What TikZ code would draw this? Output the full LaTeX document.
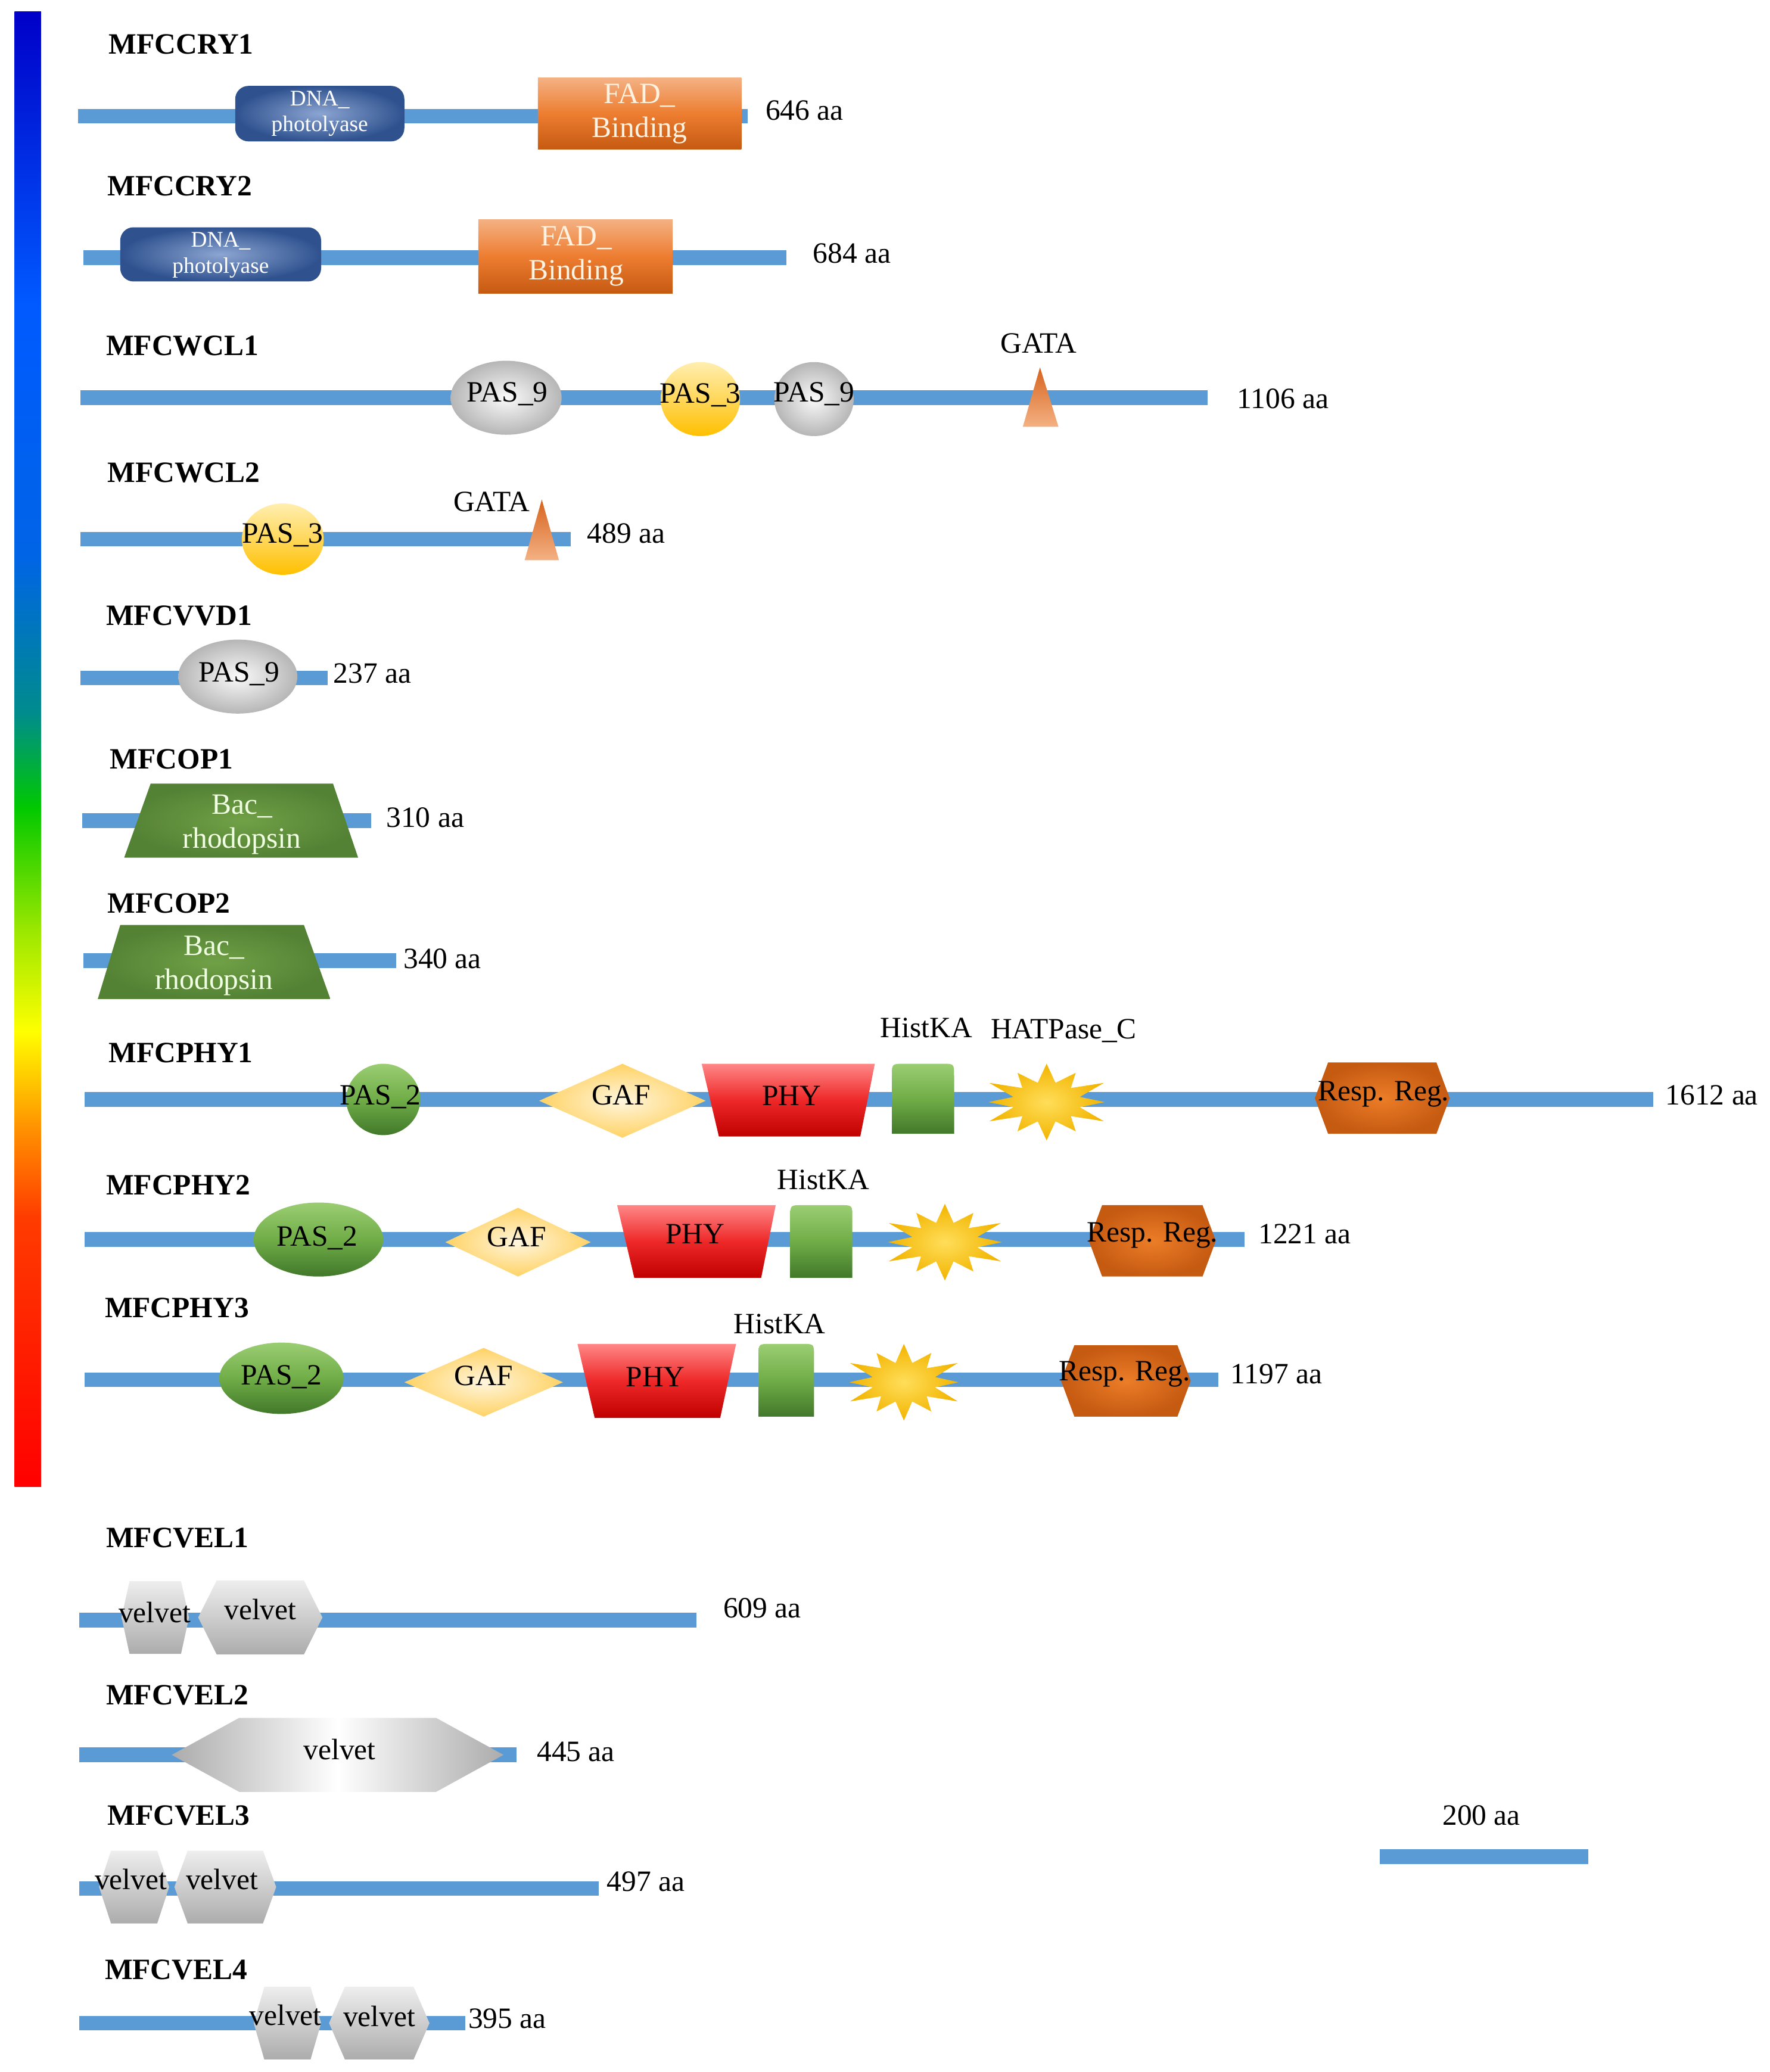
\documentclass[tikz,border=0pt]{standalone}
\usepackage{fontspec}
\setmainfont{Liberation Serif}
\definecolor{bbc}{RGB}{91,155,213}
\definecolor{dnain}{RGB}{140,165,210}
\definecolor{dnaout}{RGB}{47,82,143}
\definecolor{fadt}{RGB}{244,177,131}
\definecolor{fadm}{RGB}{237,125,49}
\definecolor{fadb}{RGB}{197,90,17}
\definecolor{grin}{RGB}{250,250,250}
\definecolor{grout}{RGB}{182,182,182}
\definecolor{yelt}{RGB}{255,238,175}
\definecolor{yelm}{RGB}{255,215,90}
\definecolor{yelb}{RGB}{255,192,0}
\definecolor{gatat}{RGB}{214,100,30}
\definecolor{gatab}{RGB}{244,177,131}
\definecolor{bacin}{RGB}{112,160,70}
\definecolor{bacout}{RGB}{84,130,53}
\definecolor{grnt}{RGB}{155,205,115}
\definecolor{grnm}{RGB}{112,173,71}
\definecolor{grnb}{RGB}{65,120,42}
\definecolor{gafin}{RGB}{255,246,222}
\definecolor{gafout}{RGB}{255,210,100}
\definecolor{phyt}{RGB}{255,135,135}
\definecolor{phym}{RGB}{238,40,40}
\definecolor{phyb}{RGB}{192,0,0}
\definecolor{starin}{RGB}{255,222,90}
\definecolor{starout}{RGB}{242,180,0}
\definecolor{rrin}{RGB}{236,125,40}
\definecolor{rrout}{RGB}{197,90,17}
\definecolor{velt}{RGB}{238,238,238}
\definecolor{velb}{RGB}{172,172,172}
\definecolor{fadtxt}{RGB}{255,242,225}
\definecolor{bactxt}{RGB}{240,255,225}
\definecolor{cb0}{RGB}{0,0,200}
\definecolor{cb1}{RGB}{0,90,255}
\definecolor{cb2}{RGB}{0,100,230}
\definecolor{cb3}{RGB}{0,140,140}
\definecolor{cb4}{RGB}{0,200,0}
\definecolor{cb5}{RGB}{150,230,0}
\definecolor{cb6}{RGB}{255,255,0}
\definecolor{cb7}{RGB}{255,150,0}
\definecolor{cb8}{RGB}{255,60,0}
\definecolor{cb9}{RGB}{255,0,0}
\newcommand{\fsz}{\fontsize{12.7}{14.6}\selectfont}
\newcommand{\fsm}{\fontsize{9.6}{11.2}\selectfont}
% shapes
\newcommand{\hexdom}[6]{\path[#1] ({#2-#4},{#3}) -- ({#2-#4+#6},{#3-#5}) -- ({#2+#4-#6},{#3-#5}) -- ({#2+#4},{#3}) -- ({#2+#4-#6},{#3+#5}) -- ({#2-#4+#6},{#3+#5}) -- cycle;}
\newcommand{\trapdom}[7]{\path[#1] (#2,#4) -- (#3,#4) -- (#6,#7) -- (#5,#7) -- cycle;}
\newcommand{\diadom}[5]{\path[#1] ({#2-#4},{#3}) -- ({#2},{#3-#5}) -- ({#2+#4},{#3}) -- ({#2},{#3+#5}) -- cycle;}
\newcommand{\elldom}[5]{\path[#1] (#2,#3) ellipse [x radius=#4, y radius=#5];}
\newcommand{\histdom}[5]{\path[#1] (#2,#5) -- (#2,{#3+9}) .. controls (#2,#3) .. ({#2+9},#3) -- ({#4-9},#3) .. controls (#4,#3) .. (#4,{#3+9}) -- (#4,#5) -- cycle;}
\newcommand{\stardom}[5]{\path[#1] ({#2+0.88*#4},{#3}) \foreach \k in {1,...,23}{ -- ({#2+#4*((mod(\k,2)==0)?((mod(\k,4)==2)?1:0.88):0.52)*cos(\k*15)},{#3+#5*((mod(\k,2)==0)?((mod(\k,4)==2)?1:0.88):0.52)*sin(\k*15)}) } -- cycle;}
\begin{document}
\begin{tikzpicture}[x=0.02cm,y=-0.02cm,
  every node/.style={font=\fsz, inner sep=0pt},
  pname/.style={font=\fsz\bfseries, anchor=base west},
  aalab/.style={anchor=base west},
  toplab/.style={anchor=base},
  dlab/.style={align=center},
  bbone/.style={line width=0.22cm, draw=bbc},
  dna/.style={inner color=dnain, outer color=dnaout},
  fad/.style={top color=fadt, bottom color=fadb, middle color=fadm},
  gball/.style={inner color=grin, outer color=grout},
  yball/.style={top color=yelt, bottom color=yelb, middle color=yelm},
  gata/.style={top color=gatat, bottom color=gatab},
  bac/.style={inner color=bacin, outer color=bacout},
  grn/.style={top color=grnt, bottom color=grnb, middle color=grnm},
  gaf/.style={inner color=gafin, outer color=gafout},
  phy/.style={top color=phyt, bottom color=phyb, middle color=phym},
  starf/.style={inner color=starin, outer color=starout},
  rreg/.style={inner color=rrin, outer color=rrout},
  vel/.style={top color=velt, bottom color=velb},
  velh/.style={left color=velb, right color=velb, middle color=white}]
\useasboundingbox (0,0) rectangle (1339,1568);
\fill[white] (0,0) rectangle (1339,1568);
% colour bar
\foreach \ya/\yb/\ca/\cb in {9/230/cb0/cb1,230/420/cb1/cb2,420/540/cb2/cb3,540/610/cb3/cb4,610/700/cb4/cb5,700/780/cb5/cb6,780/850/cb6/cb7,850/920/cb7/cb8,920/1124/cb8/cb9}
  \path[top color=\ca, bottom color=\cb] (11,\ya) rectangle (31,\yb+1);

% ---------- MFCCRY1
\node[pname] (n1) at (82,41) {MFCCRY1};
\coordinate (s1) at (59,88); \coordinate (e1) at (566,88);
\draw[bbone] (s1) -- (e1);
\path[dna, rounded corners=0.2cm] (178,65) rectangle (306,107);
\node[dlab, font=\fsm, text=white] (d1a) at (242,86) {DNA\_\\photolyase};
\path[fad] (407,59) rectangle (561,113);
\node[dlab, text=fadtxt] (d1b) at (484,86) {FAD\_\\Binding};
\node[aalab] (a1) at (579,91) {646 aa};

% ---------- MFCCRY2
\node[pname] (n2) at (81,148) {MFCCRY2};
\coordinate (s2) at (63,195); \coordinate (e2) at (595,195);
\draw[bbone] (s2) -- (e2);
\path[dna, rounded corners=0.2cm] (91,172) rectangle (243,213);
\node[dlab, font=\fsm, text=white] (d2a) at (167,193) {DNA\_\\photolyase};
\path[fad] (362,166) rectangle (509,222);
\node[dlab, text=fadtxt] (d2b) at (436,194) {FAD\_\\Binding};
\node[aalab] (a2) at (615,199) {684 aa};

% ---------- MFCWCL1
\node[pname] (n3) at (80,269) {MFCWCL1};
\coordinate (s3) at (61,301); \coordinate (e3) at (914,301);
\draw[bbone] (s3) -- (e3);
\elldom{gball}{383}{301}{42}{28}
\node (d3a) at (384,298) {PAS\_9};
\elldom{yball}{530}{302}{30}{28}
\node (d3b) at (530,299) {PAS\_3};
\elldom{gball}{616}{302}{30}{28}
\node (d3c) at (616,298) {PAS\_9};
\path[gata] (787,278) -- (801,323) -- (774,323) -- cycle;
\node[toplab] (t3) at (786,267) {GATA};
\node[aalab] (a3) at (936,309) {1106 aa};

% ---------- MFCWCL2
\node[pname] (n4) at (81,365) {MFCWCL2};
\coordinate (s4) at (61,408); \coordinate (e4) at (432,408);
\draw[bbone] (s4) -- (e4);
\elldom{yball}{214}{408}{31}{27}
\node (d4a) at (214,405) {PAS\_3};
\path[gata] (410,378) -- (423,424) -- (397,424) -- cycle;
\node[toplab] (t4) at (372,387) {GATA};
\node[aalab] (a4) at (444,411) {489 aa};

% ---------- MFCVVD1
\node[pname] (n5) at (80,473) {MFCVVD1};
\coordinate (s5) at (61,513); \coordinate (e5) at (248,513);
\draw[bbone] (s5) -- (e5);
\elldom{gball}{180}{512}{45}{28}
\node (d5a) at (181,510) {PAS\_9};
\node[aalab] (a5) at (252,517) {237 aa};

% ---------- MFCOP1
\node[pname] (n6) at (83,582) {MFCOP1};
\coordinate (s6) at (62,621); \coordinate (e6) at (281,621);
\draw[bbone] (s6) -- (e6);
\trapdom{bac}{114}{252}{593}{94}{271}{649}
\node[dlab, text=bactxt] (d6a) at (183,624) {Bac\_\\rhodopsin};
\node[aalab] (a6) at (292,626) {310 aa};

% ---------- MFCOP2
\node[pname] (n7) at (81,691) {MFCOP2};
\coordinate (s7) at (63,727); \coordinate (e7) at (300,727);
\draw[bbone] (s7) -- (e7);
\trapdom{bac}{91}{230}{700}{74}{250}{756}
\node[dlab, text=bactxt] (d7a) at (162,731) {Bac\_\\rhodopsin};
\node[aalab] (a7) at (305,733) {340 aa};

% ---------- MFCPHY1
\node[pname] (n8) at (82,804) {MFCPHY1};
\coordinate (s8) at (64,832); \coordinate (e8) at (1251,832);
\draw[bbone] (s8) -- (e8);
\elldom{grn}{290}{832}{28}{27}
\node (d8a) at (288,830) {PAS\_2};
\diadom{gaf}{471}{833}{63}{28}
\node (d8b) at (470,829) {GAF};
\trapdom{phy}{531}{662}{805}{544}{651}{860}
\node (d8c) at (599,829) {PHY};
\histdom{grn}{675}{805}{722}{858}
\stardom{starf}{792}{834}{50}{29}
\hexdom{rreg}{1046}{831}{51}{27}{10}
\node (d8d) at (1047,828) {Resp. Reg.};
\node[toplab] (t8a) at (701,785) {HistKA};
\node[toplab] (t8b) at (805,786) {HATPase\_C};
\node[aalab] (a8) at (1260,836) {1612 aa};

% ---------- MFCPHY2
\node[pname] (n9) at (80,904) {MFCPHY2};
\coordinate (s9) at (64,938); \coordinate (e9) at (942,938);
\draw[bbone] (s9) -- (e9);
\elldom{grn}{241}{938}{49}{28}
\node (d9a) at (240,937) {PAS\_2};
\diadom{gaf}{392}{940}{55}{26}
\node (d9b) at (391,936) {GAF};
\trapdom{phy}{467}{587}{912}{480}{576}{967}
\node (d9c) at (526,934) {PHY};
\histdom{grn}{598}{912}{645}{967}
\stardom{starf}{715}{940}{49}{29}
\hexdom{rreg}{872}{939}{48}{27}{10}
\node (d9d) at (872,935) {Resp. Reg.};
\node[toplab] (t9a) at (623,900) {HistKA};
\node[aalab] (a9) at (952,941) {1221 aa};

% ---------- MFCPHY3
\node[pname] (n10) at (79,997) {MFCPHY3};
\coordinate (s10) at (64,1044); \coordinate (e10) at (922,1044);
\draw[bbone] (s10) -- (e10);
\elldom{grn}{213}{1043}{47}{27}
\node (d10a) at (213,1042) {PAS\_2};
\diadom{gaf}{366}{1046}{60}{26}
\node (d10b) at (366,1041) {GAF};
\trapdom{phy}{437}{557}{1017}{450}{545}{1073}
\node (d10c) at (496,1042) {PHY};
\histdom{grn}{574}{1017}{616}{1072}
\stardom{starf}{684}{1046}{47}{29}
\hexdom{rreg}{852}{1045}{49}{27}{10}
\node (d10d) at (851,1040) {Resp. Reg.};
\node[toplab] (t10a) at (590,1009) {HistKA};
\node[aalab] (a10) at (931,1047) {1197 aa};

% ---------- MFCVEL1
\node[pname] (n11) at (80,1171) {MFCVEL1};
\coordinate (s11) at (60,1226); \coordinate (e11) at (527,1226);
\draw[bbone] (s11) -- (e11);
\hexdom{vel}{117.5}{1224}{25.5}{27.5}{6}
\hexdom{vel}{197}{1224}{47}{28}{14}
\node (d11a) at (117,1220) {velvet};
\node (d11b) at (197,1218) {velvet};
\node[aalab] (a11) at (547,1224) {609 aa};

% ---------- MFCVEL2
\node[pname] (n12) at (80,1290) {MFCVEL2};
\coordinate (s12) at (60,1328); \coordinate (e12) at (391,1328);
\draw[bbone] (s12) -- (e12);
\hexdom{velh}{255.5}{1328}{125.5}{28}{51}
\node (d12a) at (257,1324) {velvet};
\node[aalab] (a12) at (406,1333) {445 aa};

% ---------- MFCVEL3
\node[pname] (n13) at (81,1381) {MFCVEL3};
\coordinate (s13) at (60,1429); \coordinate (e13) at (453,1429);
\draw[bbone] (s13) -- (e13);
\hexdom{vel}{101.5}{1428}{26.5}{27.5}{9}
\hexdom{vel}{170.5}{1428}{38.5}{27.5}{10}
\node (d13a) at (99,1422) {velvet};
\node (d13b) at (168,1422) {velvet};
\node[aalab] (a13) at (459,1431) {497 aa};
% scale bar
\coordinate (sb1) at (1044,1405); \coordinate (sb2) at (1202,1405);
\draw[bbone] (sb1) -- (sb2);
\node[toplab] (sbl) at (1121,1381) {200 aa};

% ---------- MFCVEL4
\node[pname] (n14) at (79,1498) {MFCVEL4};
\coordinate (s14) at (60,1531); \coordinate (e14) at (352,1531);
\draw[bbone] (s14) -- (e14);
\hexdom{vel}{217.5}{1531}{25.5}{27.5}{8}
\hexdom{vel}{287}{1531}{38}{27.5}{12}
\node (d14a) at (216,1525) {velvet};
\node (d14b) at (287,1526) {velvet};
\node[aalab] (a14) at (354,1535) {395 aa};
\end{tikzpicture}
\end{document}
